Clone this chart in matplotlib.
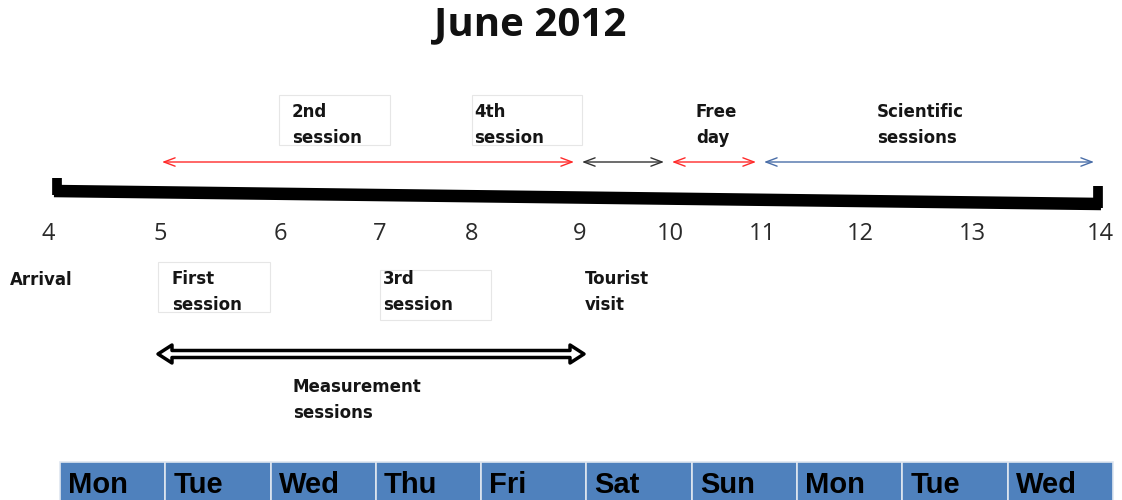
import matplotlib
matplotlib.use("Agg")
import matplotlib.pyplot as plt
from matplotlib.patches import Rectangle, Polygon

title = "June 2012"
days = [4, 5, 6, 7, 8, 9, 10, 11, 12, 13, 14]
weekdays = ["Mon", "Tue", "Wed", "Thu", "Fri", "Sat", "Sun", "Mon", "Tue", "Wed"]

# top arrows: (start day, end day, colour)
top_spans = [(5, 9, "#ff2a2a"), (9, 10, "#333333"), (10, 11, "#ff2a2a"), (11, 14, "#4a6ea8")]
top_labels = ["2nd\nsession", "4th\nsession", "Free\nday", "Scientific\nsessions"]
bottom_labels = ["Arrival", "First\nsession", "3rd\nsession", "Tourist\nvisit"]
measure_span = (5, 9)
measure_label = "Measurement\nsessions"

# layout: pixel x of each day tick on the drawing
day_x = dict(zip(days, [48, 160, 280, 380, 472, 580, 670, 762, 860, 972, 1100]))

fig = plt.figure(figsize=(11.22, 5.0), dpi=100)
ax = fig.add_axes([0, 0, 1, 1])
ax.set_xlim(0, 1122)
ax.set_ylim(500, 0)
ax.axis("off")

fam = ["Open Sans", "DejaVu Sans"]
lab_kw = dict(ha="left", va="center", fontsize=12, fontweight="bold", family=["DejaVu Sans"],
              linespacing=1.6, color="#151515")

ax.text(530, 25, title, ha="center", va="center", fontsize=29, fontweight="bold", family=fam,
        color="#111111")

# timeline (slightly slanted thick bar)
x0, x1 = day_x[4] + 6, day_x[14] + 1
ax.plot([x0, x1], [191, 204], color="black", lw=9, solid_capstyle="butt", zorder=3)
ax.plot([x0 + 3, x0 + 3], [178, 195], color="black", lw=7, solid_capstyle="butt", zorder=3)
ax.plot([x1 - 3, x1 - 3], [186, 208], color="black", lw=7, solid_capstyle="butt", zorder=3)

# day numbers
for d in days:
    ax.text(day_x[d], 234, str(d), ha="center", va="center", fontsize=17, family=fam, color="#2a2a2a")

# top arrows
for (a, b, c) in top_spans:
    xa, xb = day_x[a], day_x[b]
    ax.annotate("", xy=(xb - 6, 162), xytext=(xa + 2, 162),
                arrowprops=dict(arrowstyle="<->,head_length=0.8,head_width=0.3", color=c, lw=1.0,
                                shrinkA=0, shrinkB=0))

# top label boxes
tl_pos = [(279, 95, 111, 50, 292), (472, 95, 110, 50, 474), (None, None, None, None, 696), (None, None, None, None, 877)]
for lab, (bx, by, bw, bh, tx) in zip(top_labels, tl_pos):
    if bx is not None:
        ax.add_patch(Rectangle((bx, by), bw, bh, fill=False, edgecolor="#e6e6e6", lw=0.8))
    ax.text(tx, 125, lab, **lab_kw)

# bottom labels
bl_pos = [(None, None, None, None, 10, 280), (158, 262, 112, 50, 172, 292), (380, 270, 111, 50, 383, 292),
          (None, None, None, None, 585, 292)]
for lab, (bx, by, bw, bh, tx, ty) in zip(bottom_labels, bl_pos):
    if bx is not None:
        ax.add_patch(Rectangle((bx, by), bw, bh, fill=False, edgecolor="#e6e6e6", lw=0.8))
    ax.text(tx, ty if "\n" in lab else 280, lab, **lab_kw)

# hollow double arrow (measurement sessions)
ma, mb = day_x[measure_span[0]] - 2, day_x[measure_span[1]] + 4
yc, sh, hh, hl = 354, 3.5, 9, 14
verts = [(ma, yc), (ma + hl, yc - hh), (ma + hl, yc - sh), (mb - hl, yc - sh), (mb - hl, yc - hh),
         (mb, yc), (mb - hl, yc + hh), (mb - hl, yc + sh), (ma + hl, yc + sh), (ma + hl, yc + hh)]
ax.add_patch(Polygon(verts, closed=True, facecolor="white", edgecolor="black", lw=2.5, joinstyle="round"))
ax.text(293, 400, measure_label, **lab_kw)

# weekday bar
cell_w = (1113 - 60) / len(weekdays)
for i, wd in enumerate(weekdays):
    cx = 60 + i * cell_w
    ax.add_patch(Rectangle((cx, 462), cell_w, 40, facecolor="#4f81bd", edgecolor="#dfe6f0", lw=1.2))
    ax.text(cx + 8, 485, wd, ha="left", va="center", fontsize=21, fontweight="bold",
            family=["Liberation Sans Narrow", "Liberation Sans", "DejaVu Sans"], color="black")

fig.savefig("out.png", dpi=100)
